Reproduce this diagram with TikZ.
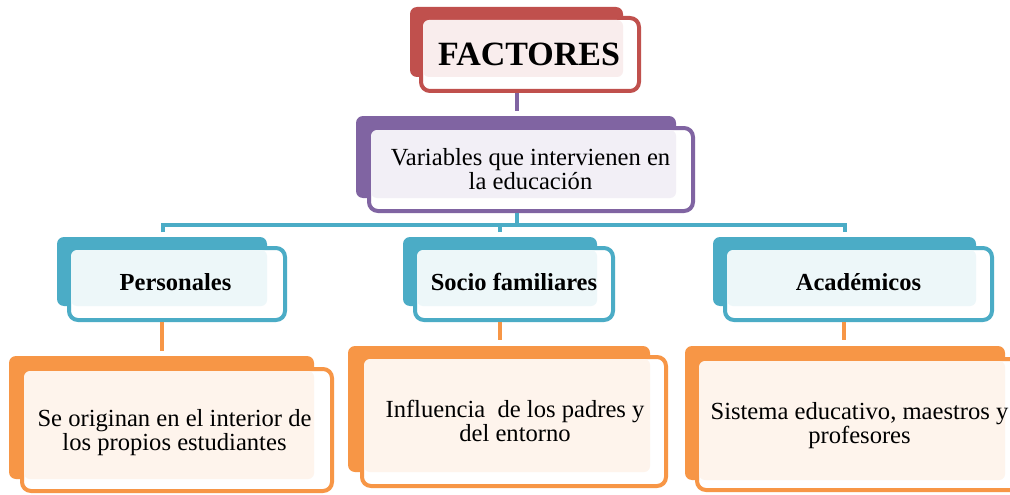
\documentclass[tikz,border=0pt]{standalone}
\usepackage{fontspec}
\setmainfont{Liberation Serif}
\usetikzlibrary{fit}
\definecolor{cred}{HTML}{C0504D}
\definecolor{cpur}{HTML}{8064A2}
\definecolor{cblu}{HTML}{4BACC6}
\definecolor{cora}{HTML}{F79646}
\begin{document}
\begin{tikzpicture}[x=1pt,y=-1pt,
  backbox/.style={fill=#1, draw=none, rounded corners=7pt, inner sep=0pt},
  frontbox/.style={fill=white, draw=#1, line width=4pt, rounded corners=9pt, inner sep=0pt},
  lightbox/.style={fill=#1!10!white, draw=none, rounded corners=6pt, inner sep=0pt},
  lbl/.style={inner sep=0pt, align=center, text=black, font=\fontsize{24.6}{24}\selectfont},
  blbl/.style={inner sep=0pt, align=center, text=black, font=\fontsize{24.5}{24}\selectfont\bfseries},
  conn/.style={draw=#1, line width=4.5pt}]
\useasboundingbox (0,0) rectangle (1010,495);
\clip (0,0) rectangle (1010,495);
\fill[white] (0,0) rectangle (1010,495);

% FACTORES
\node[backbox=cred, fit={(410,7) (623,77)}] (factb) {};
\node[frontbox=cred, fit={(421,18) (639,91)}] (factf) {};
\node[lightbox=cred, fit={(423,20) (623,77)}] (factl) {};
\node[inner sep=0pt, text=black, font=\fontsize{34}{36}\selectfont\bfseries] (fact) at (529,54) {FACTORES};

% Variables
\node[backbox=cpur, fit={(356,116) (676,198)}] (varb) {};
\node[frontbox=cpur, fit={(369,128) (693,211)}] (varf) {};
\node[lightbox=cpur, fit={(371,130) (676,198)}] (varl) {};
\node[lbl] (var) at (530.5,168.8) {Variables que intervienen en\\la educación};

% Personales
\node[backbox=cblu, fit={(57,237) (267,306)}] (persb) {};
\node[frontbox=cblu, fit={(69,248) (285,320)}] (persf) {};
\node[lightbox=cblu, fit={(71,250) (267,306)}] (persl) {};
\node[blbl] (pers) at (175.5,282.3) {Personales};

% Socio familiares
\node[backbox=cblu, fit={(403,237) (597,306)}] (socb) {};
\node[frontbox=cblu, fit={(415,248) (613,320)}] (socf) {};
\node[lightbox=cblu, fit={(417,250) (597,306)}] (socl) {};
\node[blbl] (soc) at (514,282.3) {Socio familiares};

% Academicos
\node[backbox=cblu, fit={(713,237) (976,306)}] (acab) {};
\node[frontbox=cblu, fit={(725,248) (992,320)}] (acaf) {};
\node[lightbox=cblu, fit={(727,250) (976,306)}] (acal) {};
\node[blbl] (aca) at (858.5,282.3) {Académicos};

% Orange 1
\node[backbox=cora, fit={(9,356) (314,479)}] (o1b) {};
\node[frontbox=cora, fit={(22,369) (332,491)}] (o1f) {};
\node[lightbox=cora, fit={(24,371) (314,479)}] (o1l) {};
\node[lbl] (o1) at (174.5,432.4) {Se originan en el interior de\\los propios estudiantes};

% Orange 2
\node[backbox=cora, fit={(348,346) (650,472)}] (o2b) {};
\node[frontbox=cora, fit={(362,357) (666,486)}] (o2f) {};
\node[lightbox=cora, fit={(364,359) (650,472)}] (o2l) {};
\node[lbl] (o2) at (515,420.5) {Influencia\ \ de los padres y\\del entorno};

% Orange 3
\node[backbox=cora, fit={(685,346) (1005,480)}] (o3b) {};
\node[frontbox=cora, fit={(697,359) (1020,490)}] (o3f) {};
\node[lightbox=cora, fit={(699,361) (1005,480)}] (o3l) {};
\node[lbl] (o3) at (859.5,425.7) {Sistema educativo, maestros y\\profesores};

% connectors
\coordinate (j0) at (517,111);
\draw[conn=cpur, line width=4pt] (j0 |- factf.south) -- (j0);

\coordinate (j1) at (517,225);
\coordinate (hl) at (163,225);
\coordinate (hr) at (845,225);
\coordinate (dl) at (163,232);
\coordinate (dr) at (845,232);
\coordinate (dm) at (500,232);
\draw[conn=cblu, line width=4pt] (j1 |- varf.south) -- (j1);
\draw[conn=cblu, line width=4pt] (dl) -- (hl) -- (hr) -- (dr);
\draw[conn=cblu, line width=4pt] (dm) -- (dm |- hl);

\coordinate (e1) at (162,351);
\coordinate (e2) at (500,340);
\coordinate (e3) at (844,340);
\draw[conn=cora] (e1 |- persf.south) -- (e1);
\draw[conn=cora] (e2 |- socf.south) -- (e2);
\draw[conn=cora] (e3 |- acaf.south) -- (e3);
\end{tikzpicture}
\end{document}
